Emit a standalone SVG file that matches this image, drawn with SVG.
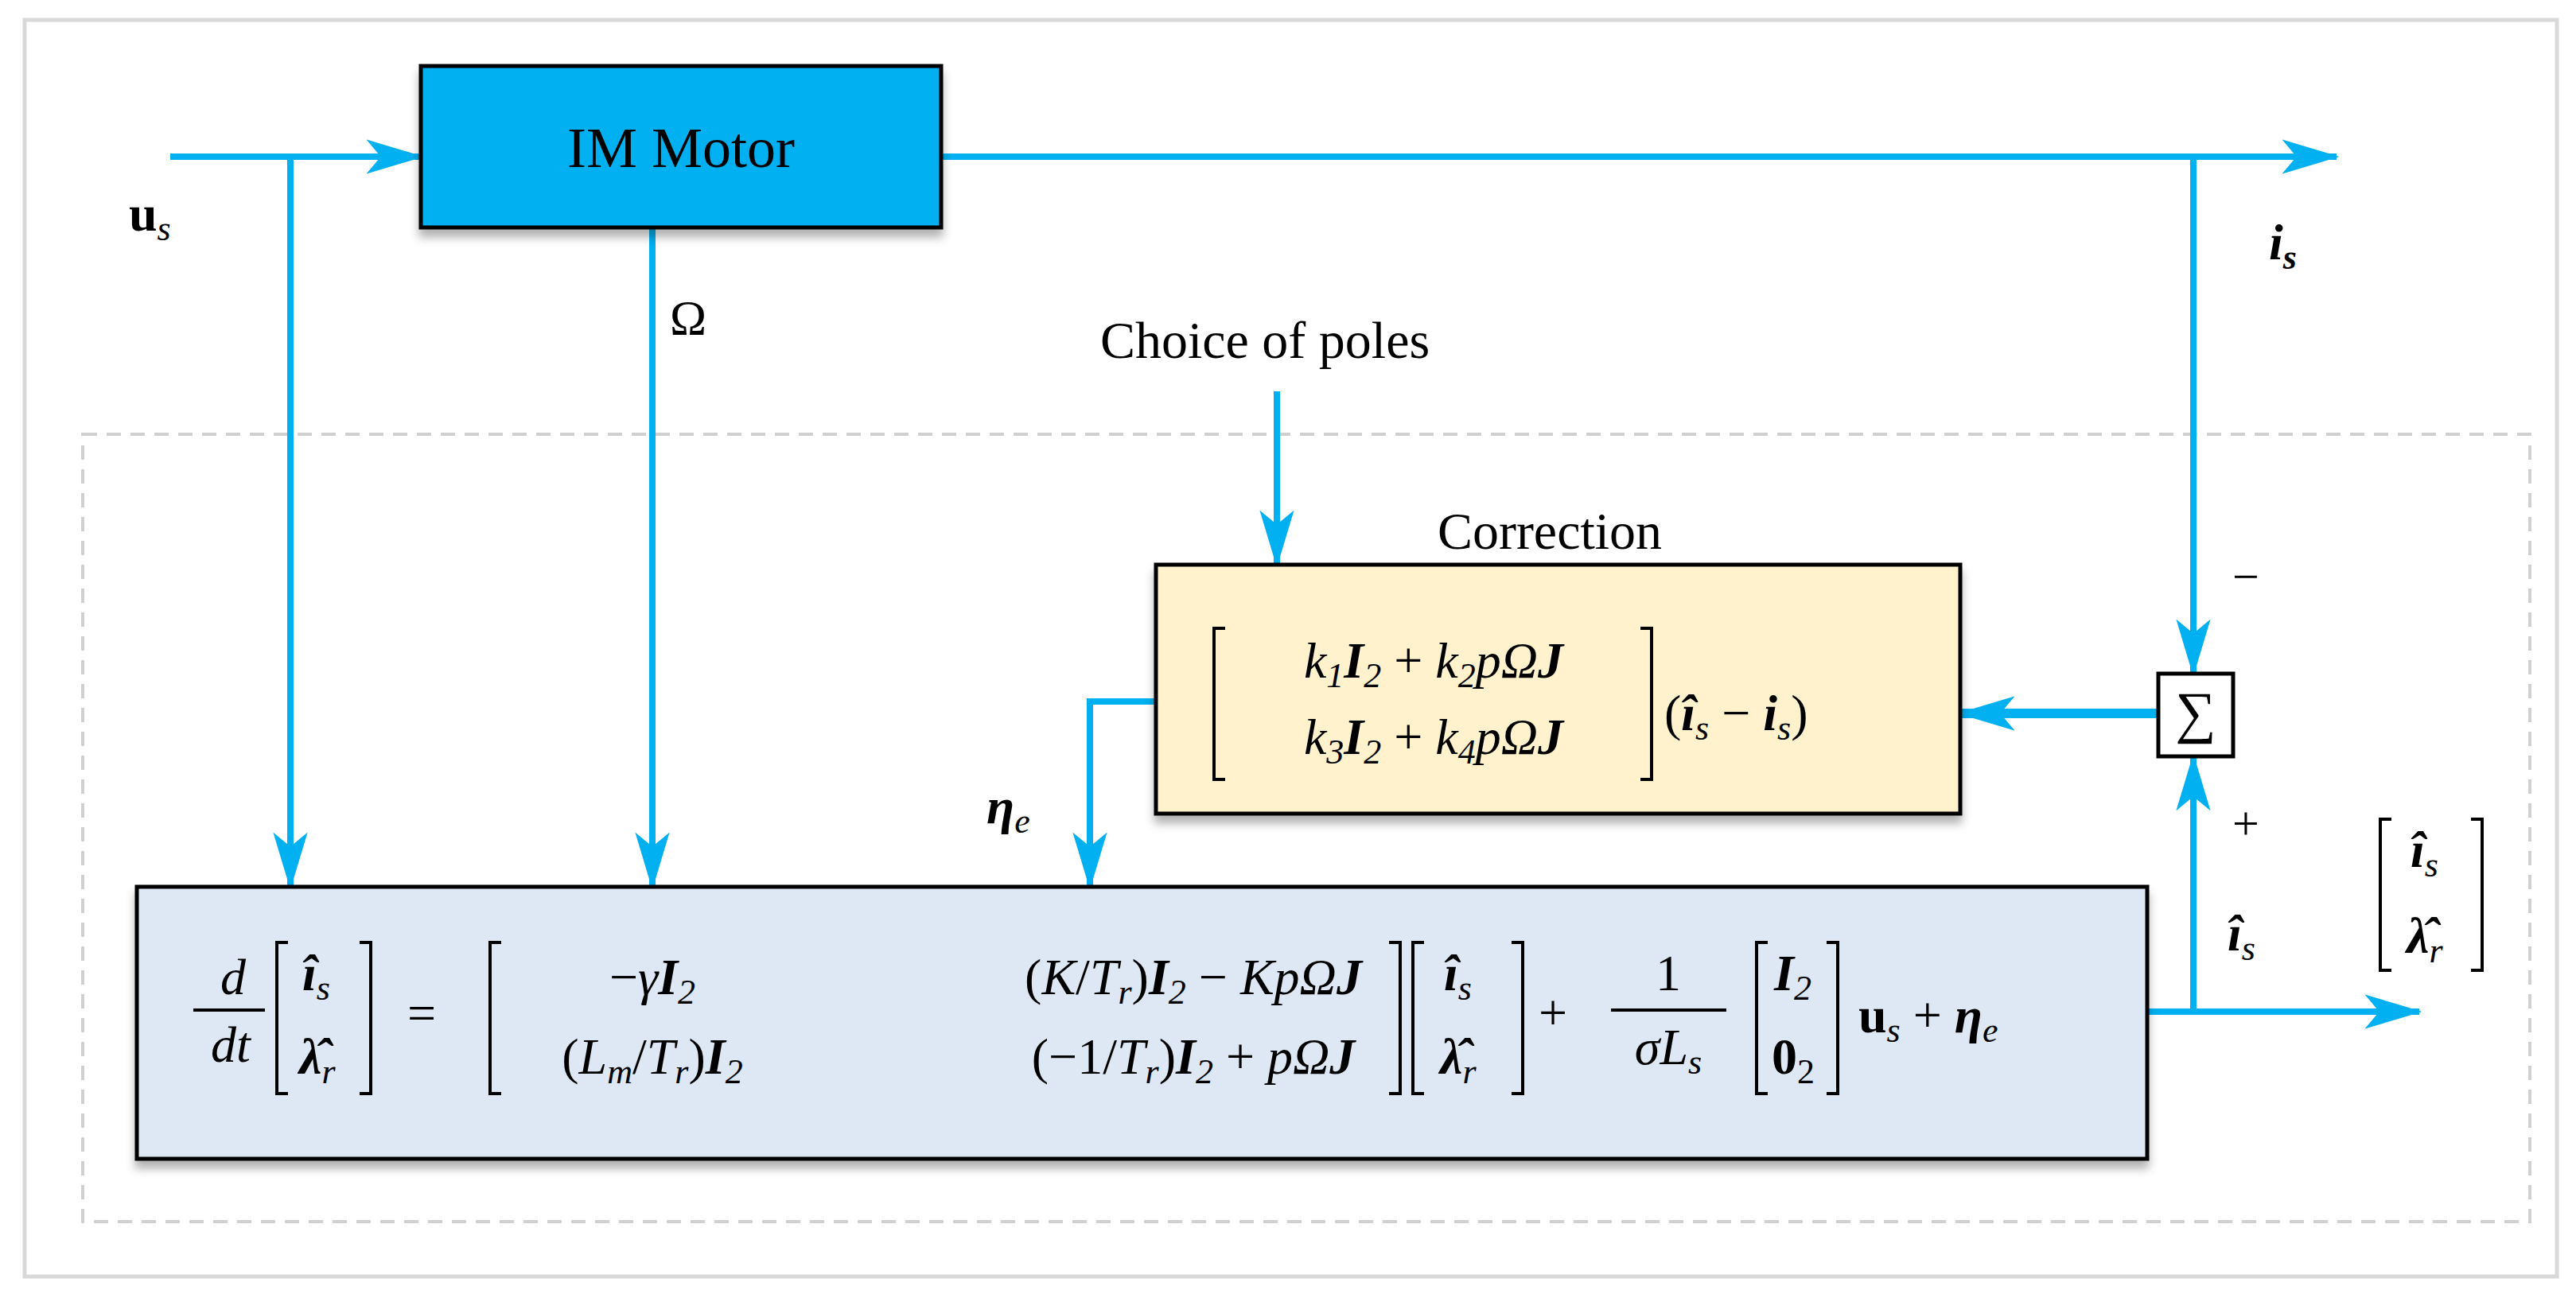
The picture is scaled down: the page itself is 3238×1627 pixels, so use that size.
<svg xmlns="http://www.w3.org/2000/svg" width="3238" height="1627" viewBox="0 0 3238 1627">
<defs>
<marker id="ah" viewBox="0 0 20 12" refX="19" refY="6" markerWidth="9" markerHeight="5.4" orient="auto" markerUnits="strokeWidth">
<path d="M0,0 L20,6 L0,12 L5,6 Z" fill="#00b0f0"/>
</marker>
<marker id="ah2" viewBox="0 0 20 12" refX="19" refY="6" markerWidth="6" markerHeight="5.4" orient="auto" markerUnits="strokeWidth">
<path d="M0,0 L20,6 L0,12 L5,6 Z" fill="#00b0f0"/>
</marker>
<filter id="sh" x="-5%" y="-5%" width="110%" height="120%"><feDropShadow dx="0" dy="10" stdDeviation="6" flood-color="#000" flood-opacity="0.3"/></filter>
</defs>
<style>
.ln{fill:none;stroke:#00b0f0;stroke-width:8}
.t{font-family:"Liberation Serif","DejaVu Serif",serif;fill:#000}
.m{font-family:"Liberation Serif","DejaVu Serif",serif;font-style:italic;font-size:64px;fill:#000}
.b{font-weight:bold}
.up{font-style:normal}
.br{fill:none;stroke:#000;stroke-width:4}
</style>
<rect x="0" y="0" width="3238" height="1627" fill="#fff"/>
<rect x="31" y="25" width="3183" height="1580" fill="none" stroke="#d9d9d9" stroke-width="5"/>
<rect x="104" y="546" width="3076" height="990" fill="none" stroke="#d0d0d0" stroke-width="4" stroke-dasharray="18,12"/>

<g id="connectors">
<path class="ln" d="M214,197 H529" marker-end="url(#ah)"/>
<path class="ln" d="M365,197 V1115" marker-end="url(#ah)"/>
<path class="ln" d="M820,286 V1115" marker-end="url(#ah)"/>
<path class="ln" d="M1183,197 H2937" marker-end="url(#ah)"/>
<path class="ln" d="M2757,197 V847" marker-end="url(#ah)"/>
<path class="ln" d="M1605,492 V710" marker-end="url(#ah)"/>
<path class="ln" style="stroke-width:12" d="M2713,897 H2464" marker-end="url(#ah2)"/>
<path class="ln" d="M1453,882 H1370 V1115" marker-end="url(#ah)"/>
<path class="ln" d="M2699,1272 H3041" marker-end="url(#ah)"/>
<path class="ln" d="M2757,1272 V951" marker-end="url(#ah)"/>
</g>

<g id="im-motor">
<rect x="529" y="83" width="654" height="203" fill="#00b0f0" stroke="#000" stroke-width="5" filter="url(#sh)"/>
<text class="t" x="856" y="210" font-size="72" text-anchor="middle">IM Motor</text>
</g>

<g id="labels">
<text class="t b" x="162" y="290" font-size="64">u<tspan font-style="italic" font-weight="normal" font-size="44" dy="12">s</tspan></text>
<text class="t" x="842" y="420" font-size="62">Ω</text>
<text class="t b" x="2852" y="326" font-size="64" font-style="italic">i<tspan font-size="44" dy="12">s</tspan></text>
<text class="t" x="1590" y="450" font-size="66" text-anchor="middle">Choice of poles</text>
<text class="t" x="1948" y="690" font-size="66" text-anchor="middle">Correction</text>
<text class="t" x="2823" y="745" font-size="60" text-anchor="middle">−</text>
<text class="t" x="2823" y="1055" font-size="60" text-anchor="middle">+</text>
<text class="m b" x="2800" y="1195">î<tspan font-size="44" dy="12" font-weight="normal">s</tspan></text>
<text class="m b" x="1240" y="1035">η<tspan font-size="44" dy="12" font-weight="normal">e</tspan></text>
<path class="br" d="M3006,1030 h-14 v190 h14 M3106,1030 h14 v190 h-14"/>
<text class="m b" x="3030" y="1090">î<tspan font-size="44" dy="12" font-weight="normal">s</tspan></text>
<text class="m b" x="3025" y="1198">λ̂<tspan font-size="44" dy="12" font-weight="normal">r</tspan></text>
</g>

<g id="sum">
<rect x="2713" y="847" width="94" height="104" fill="#fff" stroke="#000" stroke-width="5"/>
<text class="t" x="2760" y="920" font-size="72" text-anchor="middle">∑</text>
</g>

<g id="correction">
<rect x="1453" y="710" width="1011" height="313" fill="#fff2cc" stroke="#000" stroke-width="5" filter="url(#sh)"/>
<path class="br" d="M1540,790 h-14 v190 h14 M2062,790 h14 v190 h-14"/>
<text class="m" x="1802" y="852" text-anchor="middle">k<tspan font-size="44" dy="12">1</tspan><tspan class="b" dy="-12">I</tspan><tspan font-size="44" dy="12">2</tspan><tspan class="up" dy="-12"> + </tspan>k<tspan font-size="44" dy="12">2</tspan><tspan dy="-12">pΩ</tspan><tspan class="b">J</tspan></text>
<text class="m" x="1802" y="948" text-anchor="middle">k<tspan font-size="44" dy="12">3</tspan><tspan class="b" dy="-12">I</tspan><tspan font-size="44" dy="12">2</tspan><tspan class="up" dy="-12"> + </tspan>k<tspan font-size="44" dy="12">4</tspan><tspan dy="-12">pΩ</tspan><tspan class="b">J</tspan></text>
<text class="m" x="2092" y="918"><tspan class="up">(</tspan><tspan class="b">î</tspan><tspan font-size="44" dy="12">s</tspan><tspan class="up" dy="-12"> − </tspan><tspan class="b">i</tspan><tspan font-size="44" dy="12">s</tspan><tspan class="up" dy="-12">)</tspan></text>
</g>

<g id="model">
<rect x="172" y="1115" width="2527" height="342" fill="#dee8f4" stroke="#000" stroke-width="5" filter="url(#sh)"/>
<text class="m" x="293" y="1250" text-anchor="middle">d</text>
<line x1="243" y1="1270" x2="333" y2="1270" stroke="#000" stroke-width="4"/>
<text class="m" x="290" y="1335" text-anchor="middle">dt</text>
<path class="br" d="M362,1185 h-14 v190 h14 M452,1185 h14 v190 h-14"/>
<text class="m b" x="380" y="1245">î<tspan font-size="44" dy="12" font-weight="normal">s</tspan></text>
<text class="m b" x="376" y="1350">λ̂<tspan font-size="44" dy="12" font-weight="normal">r</tspan></text>
<text class="t" x="530" y="1295" font-size="64" text-anchor="middle">=</text>
<path class="br" d="M630,1185 h-14 v190 h14 M1746,1185 h14 v190 h-14"/>
<text class="m" x="820" y="1250" text-anchor="middle"><tspan class="up">−</tspan>γ<tspan class="b">I</tspan><tspan font-size="44" dy="12">2</tspan></text>
<text class="m" x="1500" y="1250" text-anchor="middle"><tspan class="up">(</tspan>K<tspan class="up">/</tspan>T<tspan font-size="44" dy="12">r</tspan><tspan class="up" dy="-12">)</tspan><tspan class="b">I</tspan><tspan font-size="44" dy="12">2</tspan><tspan class="up" dy="-12"> − </tspan>KpΩ<tspan class="b">J</tspan></text>
<text class="m" x="820" y="1350" text-anchor="middle"><tspan class="up">(</tspan>L<tspan font-size="44" dy="12">m</tspan><tspan class="up" dy="-12">/</tspan>T<tspan font-size="44" dy="12">r</tspan><tspan class="up" dy="-12">)</tspan><tspan class="b">I</tspan><tspan font-size="44" dy="12">2</tspan></text>
<text class="m" x="1500" y="1350" text-anchor="middle"><tspan class="up">(−1/</tspan>T<tspan font-size="44" dy="12">r</tspan><tspan class="up" dy="-12">)</tspan><tspan class="b">I</tspan><tspan font-size="44" dy="12">2</tspan><tspan class="up" dy="-12"> + </tspan>pΩ<tspan class="b">J</tspan></text>
<path class="br" d="M1790,1185 h-14 v190 h14 M1900,1185 h14 v190 h-14"/>
<text class="m b" x="1815" y="1245">î<tspan font-size="44" dy="12" font-weight="normal">s</tspan></text>
<text class="m b" x="1810" y="1350">λ̂<tspan font-size="44" dy="12" font-weight="normal">r</tspan></text>
<text class="t" x="1952" y="1295" font-size="64" text-anchor="middle">+</text>
<text class="t" x="2097" y="1245" font-size="64" text-anchor="middle">1</text>
<line x1="2025" y1="1270" x2="2170" y2="1270" stroke="#000" stroke-width="4"/>
<text class="m" x="2097" y="1338" text-anchor="middle">σL<tspan font-size="44" dy="12">s</tspan></text>
<path class="br" d="M2222,1185 h-14 v190 h14 M2296,1185 h14 v190 h-14"/>
<text class="m b" x="2230" y="1245">I<tspan font-size="44" dy="12" font-weight="normal">2</tspan></text>
<text class="t b" x="2227" y="1350" font-size="64">0<tspan font-size="44" dy="12" font-weight="normal">2</tspan></text>
<text class="m" x="2336" y="1298"><tspan class="b up">u</tspan><tspan font-size="44" dy="12">s</tspan><tspan class="up" dy="-12"> + </tspan><tspan class="b">η</tspan><tspan font-size="44" dy="12">e</tspan></text>
</g>
</svg>
